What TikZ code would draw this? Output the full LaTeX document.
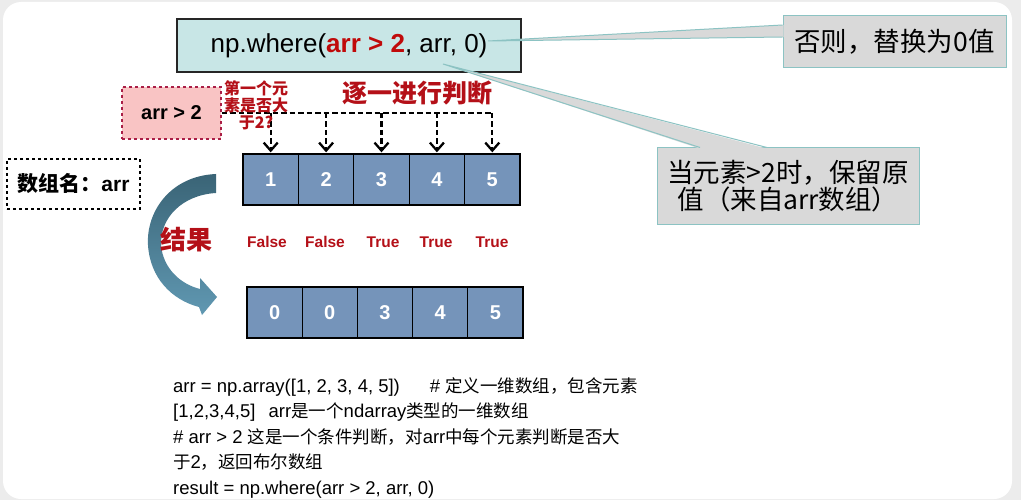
\documentclass[tikz,border=0pt]{standalone}
\usepackage{fontspec}
\setmainfont{Liberation Sans}
\newfontfamily\cjk{Noto Sans CJK SC}
\usetikzlibrary{arrows.meta}
\definecolor{bgray}{RGB}{236,236,236}
\definecolor{topcyan}{RGB}{200,230,230}
\definecolor{callfill}{RGB}{217,217,217}
\definecolor{calledge}{RGB}{140,195,195}
\definecolor{pinkfill}{RGB}{249,196,196}
\definecolor{pinkedge}{RGB}{170,30,70}
\definecolor{darkred}{RGB}{180,16,24}
\definecolor{brightred}{RGB}{192,10,10}
\definecolor{cellblue}{RGB}{117,148,186}
\definecolor{arrowtop}{RGB}{58,100,118}
\definecolor{arrowbot}{RGB}{96,152,178}
\newcommand{\zh}[1]{{\cjk #1}}
\tikzset{
  cell/.style={draw=black, line width=1.3pt, fill=cellblue, minimum width=55.4pt,
    minimum height=51pt, inner sep=0pt, text=white,
    font=\fontsize{20}{24}\selectfont\bfseries},
  callbox/.style={draw=calledge, line width=1pt, fill=callfill, inner sep=0pt,
    font=\cjk\fontsize{26.5}{27}\selectfont},
  dashline/.style={draw=black, line width=2.3pt, dash pattern=on 5.5pt off 3pt},
  dasharrow/.style={dashline, -{Straight Barb[length=8pt,width=14pt,line width=2.3pt]}},
  redlabel/.style={text=darkred, font=\fontsize{15.5}{18}\selectfont\bfseries},
  codeline/.style={anchor=base west, inner sep=0pt, font=\fontsize{18.5}{22}\selectfont}
}
\begin{document}
\begin{tikzpicture}[x=1pt,y=-1pt]
\useasboundingbox (0,0) rectangle (1021,500);
\fill[bgray] (0,0) rectangle (1021,500);
\fill[white, rounded corners=18pt] (3,2) rectangle (1012,499);

% top expression box
\node[draw=black!85, line width=1.5pt, fill=topcyan, minimum width=344pt, minimum height=53pt,
  inner sep=0pt, font=\fontsize{26}{30}\selectfont] (expr) at (349,45.5)
  {np.where({\bfseries\color{brightred}arr > 2}, arr, 0)};

% callout 1
\node[callbox, minimum width=223pt, minimum height=52pt] (c1) at (894.5,42) {否则，替换为0值};
\coordinate (tip1) at (488,41);
\fill[callfill] ([xshift=1.2pt,yshift=17pt]c1.west) -- (tip1) -- ([xshift=1.2pt,yshift=5pt]c1.west) -- cycle;
\draw[calledge, line width=1pt] ([yshift=17pt]c1.west) -- (tip1) -- ([yshift=5pt]c1.west);

% callout 2
\node[callbox, minimum width=262pt, minimum height=77pt, align=center] (c2) at (788,186.5)
  {当元素>2时，保留原\\值（来自arr数组）};
\coordinate (tip2) at (443,64);
\fill[callfill] ([xshift=-88pt,yshift=-1.2pt]c2.north) -- (tip2) -- ([xshift=-21pt,yshift=-1.2pt]c2.north) -- cycle;
\draw[calledge, line width=1pt] ([xshift=-88pt]c2.north) -- (tip2) -- ([xshift=-21pt]c2.north);

% condition box
\node[draw=pinkedge, dashed, line width=1.2pt, fill=pinkfill, minimum width=99pt,
  minimum height=52pt, inner sep=0pt, font=\fontsize{20}{24}\selectfont\bfseries] (pink) at (171.5,113) {arr > 2};

% array name box
\node[draw=black, dashed, line width=1.5pt, minimum width=133pt, minimum height=50pt,
  inner sep=0pt, font=\fontsize{21}{24}\selectfont\bfseries] (aname) at (73.5,184) {\zh{数组名：}arr};

% top array
\foreach \v [count=\i] in {1,2,3,4,5} {
  \node[cell] (t\i) at ({270.7+55.4*(\i-1)},179.5) {\v};
}
% bottom array
\foreach \v [count=\i] in {0,0,3,4,5} {
  \node[cell, minimum width=55.2pt] (b\i) at ({274.6+55.2*(\i-1)},312.5) {\v};
}

% dashed connectors
\draw[dashline] (pink.east) -- (pink.east -| t5.north);
\foreach \i in {1,...,5} {
  \draw[dasharrow] (pink.east -| t\i.north) -- ([yshift=1pt]t\i.north);
}

% notes
\node[align=center, text=darkred, inner sep=0pt, font=\cjk\fontsize{16}{17}\selectfont\bfseries] (q1) at (256,105)
  {第一个元\\素是否大\\于2?};
\node[text=darkred, inner sep=0pt, font=\cjk\fontsize{25}{28}\selectfont\bfseries] (each) at (417,93) {逐一进行判断};

% result labels
\node[redlabel] (r1) at (267,242) {False};
\node[redlabel] (r2) at (325,242) {False};
\node[redlabel] (r3) at (383,242) {True};
\node[redlabel] (r4) at (436,242) {True};
\node[redlabel] (r5) at (492,242) {True};

% curved arrow
\shade[top color=arrowtop, bottom color=arrowbot]
  (216,174) .. controls (170,176) and (146,212) .. (148,245)
  .. controls (150,278) and (172,300) .. (199,307)
  -- (202,315) -- (217,297) -- (200,278) -- (200,289)
  .. controls (180,284) and (163,268) .. (161,245)
  .. controls (160,218) and (182,195) .. (216,193) -- cycle;
\node[text=darkred, inner sep=0pt, font=\cjk\fontsize{26}{28}\selectfont\bfseries] (res) at (186,240) {结果};

% code
\node[codeline] (code1) at (173,392) {arr = np.array([1, 2, 3, 4, 5])\hspace{30pt}\# \zh{\fontsize{17.5}{20}\selectfont 定义一维数组，包含元素}};
\node[codeline] (code2) at (173,417.5) {[1,2,3,4,5]\hspace{8pt} arr\zh{\fontsize{17.5}{20}\selectfont 是一个}ndarray\zh{\fontsize{17.5}{20}\selectfont 类型的一维数组}};
\node[codeline] (code3) at (173,443) {\# arr > 2 \zh{\fontsize{17.5}{20}\selectfont 这是一个条件判断，对}arr\zh{\fontsize{17.5}{20}\selectfont 中每个元素判断是否大}};
\node[codeline] (code4) at (173,468.5) {\zh{\fontsize{17.5}{20}\selectfont 于}2\zh{\fontsize{17.5}{20}\selectfont ，返回布尔数组}};
\node[codeline] (code5) at (173,494) {result = np.where(arr > 2, arr, 0)};
\end{tikzpicture}
\end{document}
